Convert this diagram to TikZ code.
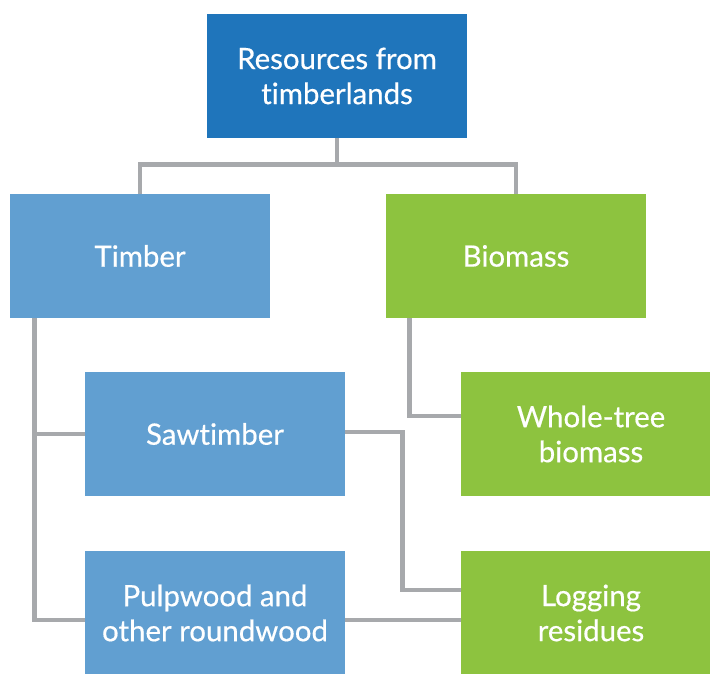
\documentclass[tikz,border=0pt]{standalone}
\usepackage{fontspec}
\setmainfont{Lato}[Ligatures=NoCommon]
\newfontfamily\boxfont{Lato}[Ligatures=NoCommon,FakeBold=0.5]
\usepackage{tikz}
\usepackage{xcolor}
\usetikzlibrary{backgrounds}

\definecolor{topblue}{HTML}{1F75BB}
\definecolor{liteblue}{HTML}{619FD1}
\definecolor{leafgreen}{HTML}{8DC33F}
\definecolor{linkgray}{HTML}{A7A9AC}

\begin{document}
\begin{tikzpicture}[x=0.5pt,y=-0.5pt,
                    box/.style={rectangle,inner sep=0pt,text=white,align=center,
                                minimum width=130pt,minimum height=62pt,
                                font=\boxfont\fontsize{14.7}{17.5}\selectfont},
                    link/.style={draw=linkgray,line width=2.25pt}]
                    \useasboundingbox (0,0) rectangle (710,673);
                    \node[box,fill=topblue] (res) at (337,76) {Resources from\\timberlands};
                    \node[box,fill=liteblue] (timber) at (140,256) {Timber};
                    \node[box,fill=leafgreen] (biomass) at (516,256) {Biomass};
                    \node[box,fill=liteblue] (saw) at (215,434) {Sawtimber};
                    \node[box,fill=leafgreen] (whole) at (591,434) {Whole-tree\\biomass};
                    \node[box,fill=liteblue] (pulp) at (215,613) {Pulpwood and\\other roundwood};
                    \node[box,fill=leafgreen] (logging) at (591,613) {Logging\\residues};
                    \coordinate (tl) at ([xshift=12.5pt]timber.south west);
                    \coordinate (bl) at ([xshift=12pt]biomass.south west);
                    \begin{scope}[on background layer]
                        % top split
                        \draw[link] (res.south) -- ++(0,26) -| (timber.north);
                        \draw[link] (res.south) -- ++(0,26) -| (biomass.north);
                        % timber branches
                        \draw[link] (tl) |- (saw.west);
                        \draw[link] (tl) |- ([yshift=-3.5pt]pulp.west);
                        % biomass branch
                        \draw[link] (bl) |- ([yshift=9pt]whole.west);
                        % cross links to residues
                        \draw[link] ([yshift=1pt]saw.east) -- ++(57,0) |- ([yshift=11.5pt]logging.west);
                        \draw[link] ([yshift=-3.5pt]pulp.east) -- ([yshift=-3.5pt]logging.west);
                    \end{scope}
                \end{tikzpicture}
\end{document}
